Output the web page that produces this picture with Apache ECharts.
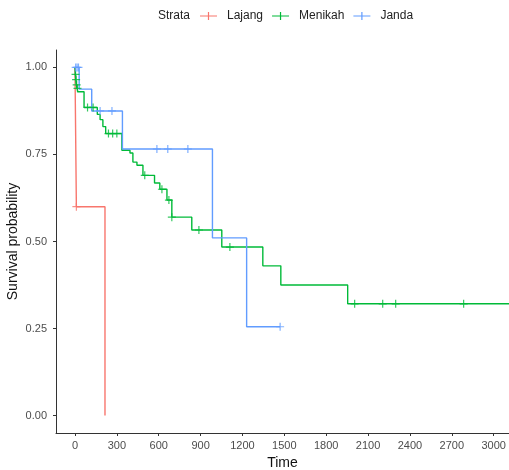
<html lang="en">
<head>
    <meta charset="UTF-8">
    <title>Survival</title>
    <script src="https://cdn.jsdelivr.net/npm/echarts@6/dist/echarts.min.js"></script>
    <style>
        html, body { margin: 0; padding: 0; background: #fff; }
        #chart { width: 509px; height: 470px; }
    </style>
</head>
<body>
    <div id="chart"></div>
    <script>
        // strata
        var strata = ['Lajang', 'Menikah', 'Janda'];
        var colors = ['#F8766D', '#00BA38', '#619CFF'];

        // Lajang
        var lajangTime = [0, 10, 215];
        var lajangSurv = [1, 0.6, 0];
        var lajangCensorTime = [10];
        var lajangCensorSurv = [0.6];

        // Menikah
        var menikahTime = [0, 3, 6, 10, 15, 20, 65, 160, 180, 200, 220, 336, 394, 415, 444, 487, 570, 608, 659, 694, 837, 1052, 1346, 1475, 1954, 3110];
        var menikahSurv = [1, 0.98, 0.965, 0.95, 0.94, 0.93, 0.885, 0.865, 0.85, 0.83, 0.81, 0.762, 0.754, 0.728, 0.719, 0.69, 0.668, 0.65, 0.619, 0.57, 0.533, 0.484, 0.43, 0.375, 0.321, 0.321];
        var menikahCensorTime = [4, 8, 12, 18, 90, 130, 240, 270, 300, 500, 623, 673, 694, 888, 1110, 2004, 2205, 2298, 2785];
        var menikahCensorSurv = [0.98, 0.965, 0.95, 0.94, 0.885, 0.885, 0.81, 0.81, 0.81, 0.69, 0.65, 0.619, 0.57, 0.533, 0.484, 0.321, 0.321, 0.321, 0.321];

        // Janda
        var jandaTime = [0, 30, 120, 340, 985, 1230, 1470];
        var jandaSurv = [1, 0.9375, 0.875, 0.7656, 0.5104, 0.2552, 0.2552];
        var jandaCensorTime = [5, 15, 25, 180, 265, 587, 665, 809, 1470];
        var jandaCensorSurv = [1, 1, 1, 0.875, 0.875, 0.7656, 0.7656, 0.7656, 0.2552];

        // axis ticks
        var xTicks = [0, 300, 600, 900, 1200, 1500, 1800, 2100, 2400, 2700, 3000];
        var yTicks = [0, 0.25, 0.5, 0.75, 1];

        var plusIcon = 'path://M0,4.25h10v1.5h-10zM4.25,0h1.5v10h-1.5z';
        var legendIcon = 'path://M0,4.4h17v1.2h-17zM7.9,1h1.2v8h-1.2z';

        function pairs(t, s) {
            return t.map(function (v, i) { return [v, s[i]]; });
        }

        var curves = [
            [lajangTime, lajangSurv, lajangCensorTime, lajangCensorSurv],
            [menikahTime, menikahSurv, menikahCensorTime, menikahCensorSurv],
            [jandaTime, jandaSurv, jandaCensorTime, jandaCensorSurv]
        ];

        var series = [];
        curves.forEach(function (c, i) {
            series.push({
                name: strata[i],
                type: 'line',
                step: 'end',
                data: pairs(c[0], c[1]),
                showSymbol: false,
                lineStyle: { color: colors[i], width: 1.4 },
                itemStyle: { color: colors[i] },
                z: 2 + i
            });
            series.push({
                name: strata[i],
                type: 'scatter',
                data: pairs(c[2], c[3]),
                symbol: plusIcon,
                symbolSize: 8,
                itemStyle: { color: colors[i] },
                z: 5 + i
            });
        });

        var font = 'Liberation Sans, Arial, sans-serif';
        var chart = echarts.init(document.getElementById('chart'));
        chart.setOption({
            animation: false,
            textStyle: { fontFamily: font },
            grid: { left: 56, top: 50, width: 453, height: 383, outerBoundsMode: 'none' },
            legend: {
                data: strata.map(function (s, i) {
                    return { name: s, icon: legendIcon, itemStyle: { color: colors[i] } };
                }),
                left: 195,
                top: 5,
                itemWidth: 17,
                itemHeight: 10,
                itemGap: 9,
                textStyle: { fontSize: 12, color: '#222', padding: [0, 0, 0, 5] }
            },
            graphic: [{
                type: 'text',
                left: 158,
                top: 10,
                style: { text: 'Strata', fontSize: 12, fill: '#222', fontFamily: font }
            }],
            xAxis: {
                type: 'value',
                min: -136,
                max: 3110,
                name: 'Time',
                nameLocation: 'middle',
                nameGap: 21,
                nameTextStyle: { fontSize: 14, color: '#111' },
                splitLine: { show: false },
                axisLine: { onZero: false, lineStyle: { color: '#333', width: 1 } },
                axisTick: { customValues: xTicks, length: 3, lineStyle: { color: '#333' } },
                axisLabel: {
                    customValues: xTicks,
                    fontSize: 11,
                    color: '#4D4D4D',
                    margin: 7,
                    formatter: function (v) { return String(v); }
                }
            },
            yAxis: {
                type: 'value',
                min: -0.05,
                max: 1.05,
                name: 'Survival probability',
                nameLocation: 'middle',
                nameGap: 36,
                nameMoveOverlap: false,
                nameTextStyle: { fontSize: 14, color: '#111' },
                splitLine: { show: false },
                axisLine: { show: true, onZero: false, lineStyle: { color: '#333', width: 1 } },
                axisTick: { show: true, customValues: yTicks, length: 3, lineStyle: { color: '#333' } },
                axisLabel: {
                    customValues: yTicks,
                    fontSize: 11,
                    color: '#4D4D4D',
                    margin: 9,
                    formatter: function (v) { return v.toFixed(2); }
                }
            },
            series: series
        });
    </script>
</body>
</html>
